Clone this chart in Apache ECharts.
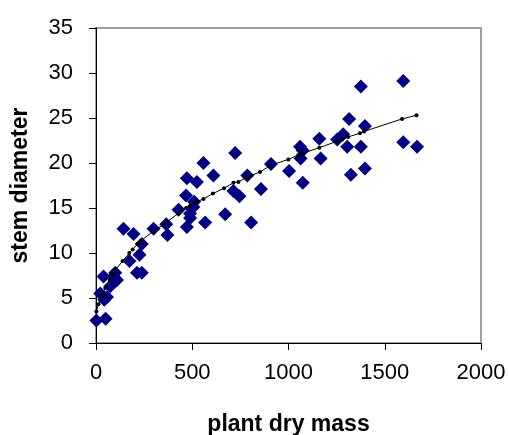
<!DOCTYPE html>
<html>
<head>
<meta charset="utf-8">
<script src="https://cdn.jsdelivr.net/npm/echarts@6/dist/echarts.min.js"></script>
<style>html,body{margin:0;padding:0;background:#fff}#c{width:509px;height:435px}</style>
</head>
<body>
<div id="c"></div>
<script>
var xTicks = [0, 500, 1000, 1500, 2000];
var yTicks = [0, 5, 10, 15, 20, 25, 30, 35];

var massValues = [2,50,22,57,43,74,39,91,109,100,143,195,174,226,213,238,238,299,365,371,429,468,489,472,489,506,510,472,524,558,567,610,671,714,745,723,786,806,857,909,1003,1060,1074,1063,1074,1160,1167,1253,1284,1305,1315,1324,1376,1376,1397,1397,1596,1596,1668];
var diameterValues = [2.5,2.7,5.5,5.1,4.8,6.3,7.4,7.4,7.0,7.8,12.7,12.1,9.1,9.8,7.8,7.8,11.0,12.7,13.2,12.0,14.8,16.4,14.4,12.9,13.9,15.1,15.7,18.3,17.9,20.0,13.4,18.6,14.3,16.9,16.3,21.1,18.6,13.4,17.1,19.9,19.1,21.8,21.4,20.5,17.8,22.7,20.5,22.6,23.2,21.8,24.9,18.7,21.8,28.5,24.1,19.4,29.1,22.3,21.8];

var fitMass = [2,13,31,48,71,83,100,138,173,190,216,230,296,359,428,468,489,524,558,607,665,714,740,783,804,852,904,999,1051,1063,1160,1250,1279,1310,1371,1392,1590,1665];
var fitDiameter = [3.5,4.3,5.3,6.1,7.0,7.6,8.1,9.1,10.0,10.4,11.0,11.3,12.4,13.3,14.4,15.0,15.2,15.7,16.0,16.6,17.2,17.8,17.9,18.4,18.6,19.0,19.7,20.4,20.9,21.0,21.7,22.4,22.6,22.9,23.3,23.5,24.9,25.3];

var scatterData = massValues.map(function(v, i){ return [v, diameterValues[i]]; });
var fitData = fitMass.map(function(v, i){ return [v, fitDiameter[i]]; });

var chart = echarts.init(document.getElementById('c'), null, {renderer: 'canvas'});
var font = '"Liberation Sans", Arial, sans-serif';
chart.setOption({
  animation: false,
  backgroundColor: '#ffffff',
  grid: {left: 96, right: 28, top: 28, bottom: 92, containLabel: false, outerBoundsMode: 'none',
         show: true, borderColor: '#a0a0a0', borderWidth: 2, backgroundColor: 'transparent'},
  xAxis: {
    type: 'value', min: xTicks[0], max: xTicks[xTicks.length-1], interval: 500,
    name: 'plant dry mass', nameLocation: 'middle', nameGap: 70,
    nameTextStyle: {fontFamily: font, fontSize: 23, fontWeight: 'bold', color: '#000'},
    axisLine: {show: true, onZero: false, lineStyle: {color: '#000', width: 1}},
    axisTick: {show: true, inside: false, length: 7, lineStyle: {color: '#000'}},
    axisLabel: {margin: 19, fontFamily: font, fontSize: 22, color: '#000', formatter: function(v){ return String(v); }},
    splitLine: {show: false}
  },
  yAxis: {
    type: 'value', min: yTicks[0], max: yTicks[yTicks.length-1], interval: 5,
    name: 'stem diameter', nameLocation: 'middle', nameGap: 64, nameRotate: 90,
    nameTextStyle: {fontFamily: font, fontSize: 23, fontWeight: 'bold', color: '#000'},
    axisLine: {show: true, onZero: false, lineStyle: {color: '#000', width: 1}},
    axisTick: {show: true, inside: false, length: 7, lineStyle: {color: '#000'}},
    axisLabel: {margin: 23, fontFamily: font, fontSize: 22, color: '#000', formatter: function(v){ return String(v); }},
    splitLine: {show: false}
  },
  series: [
    {
      type: 'scatter', data: scatterData, symbol: 'diamond', symbolSize: 14,
      itemStyle: {color: '#000080', opacity: 1}, z: 2
    },
    {
      type: 'line', data: fitData, symbol: 'circle', symbolSize: 4, showSymbol: true,
      lineStyle: {color: '#000', width: 1}, itemStyle: {color: '#000'}, z: 3
    }
  ]
});
</script>
</body>
</html>
